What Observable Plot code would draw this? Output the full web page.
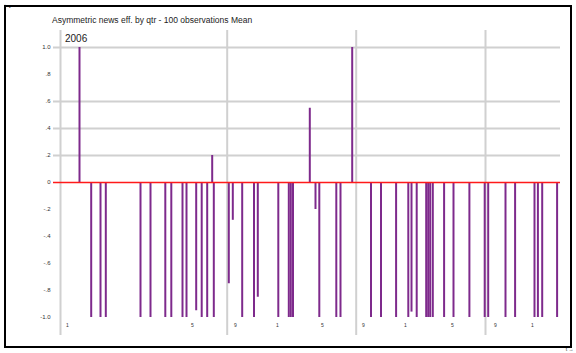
<!DOCTYPE html>
<html>
<head>
<meta charset="utf-8">
<script src="https://cdn.jsdelivr.net/npm/d3@7"></script>
<script src="https://cdn.jsdelivr.net/npm/@observablehq/plot@0.6"></script>
<style>
  html, body { margin: 0; padding: 0; background: #fff; overflow: hidden; }
  #wrap { position: relative; width: 576px; height: 353px; font-family: "Liberation Sans", Arial, sans-serif; }
  #frame { position: absolute; left: 4px; top: 5px; width: 564px; height: 339px; border: 2px solid #000; pointer-events: none; }
  #title { position: absolute; left: 52px; top: 15px; font-size: 8.5px; color: #222; white-space: nowrap; }
  #panel { position: absolute; left: 65px; top: 33px; font-size: 10px; color: #222; }
  #chart { position: absolute; left: 0; top: 0; }
</style>
</head>
<body>
<div id="wrap">
  <div id="chart"></div>
  <div id="title">Asymmetric news eff. by qtr - 100 observations Mean</div>
  <div id="panel">2006</div>
  <div id="frame"></div>
</div>
<script>
// event positions (time units) and signed news effect
const t = [1.9, 3.07, 4.0, 4.53, 8.0, 9.0, 10.48, 11.08, 12.2, 12.6,
           13.57, 14.12, 14.67, 15.17, 15.33, 16.83, 17.23, 18.17, 19.35, 19.73,
           21.78, 22.83, 23.03, 23.25, 24.93, 25.5, 25.88, 27.58, 28.0, 29.17,
           31.05, 32.05, 33.56, 34.78, 35.1, 35.62, 36.57, 36.77, 36.97, 37.23,
           38.36, 39.3, 40.89, 42.42, 42.77, 44.5, 45.46, 47.4, 47.74, 48.17, 49.66];
const v = [1.0, -1, -1, -1, -1, -1, -1, -1, -1, -1,
           -0.95, -1, -1, 0.2, -1, -0.75, -0.28, -1, -1, -0.85,
           -1, -1, -1, -1, 0.55, -0.2, -1, -1, -1, 1.0,
           -1, -1, -1, -1, -0.96, -1, -1, -1, -1, -1,
           -1, -1, -1, -1, -1, -1, -1, -1, -1, -1, -1];
const separators = [0, 16.67, 29.57, 42.5];
const yTicks = [1, 0.8, 0.6, 0.4, 0.2, 0, -0.2, -0.4, -0.6, -0.8, -1];
const yTickLabels = ["1.0", ".8", ".6", ".4", ".2", "0", "-.2", "-.4", "-.6", "-.8", "-1.0"];
const yGrid = [1, 0.6, 0.4, 0.2];
const xTicks = [0.7, 13.2, 17.5, 21.7, 26.2, 30.3, 34.5, 39.2, 43.5, 47.2];
const xTickLabels = ["1", "5", "9", "1", "5", "9", "1", "5", "9", "1"];

const data = t.map((d, i) => ({t: d, v: v[i]}));

const chart = Plot.plot({
  width: 576,
  height: 353,
  marginLeft: 53,
  marginRight: 16,
  marginTop: 30,
  marginBottom: 18,
  style: {background: "transparent", fontFamily: "Liberation Sans, Arial, sans-serif"},
  x: {domain: [0, 50], range: [60, 560]},
  y: {domain: [-1, 1], range: [317, 47]},
  marks: [
    Plot.ruleY(yGrid, {stroke: "#d0d0d0", strokeWidth: 2}),
    Plot.ruleX(separators, {stroke: "#d0d0d0", strokeWidth: 2}),
    Plot.ruleX(data, {x: "t", y1: 0, y2: "v", stroke: "#7e2a8c", strokeWidth: 2}),
    Plot.ruleY([0], {stroke: "#ff1a1a", strokeWidth: 1.5}),
    Plot.axisY({ticks: yTicks, tickFormat: (d) => yTickLabels[yTicks.indexOf(d)], tickSize: 0, tickPadding: 3, fontSize: 6, fill: "#333"}),
    Plot.axisX({ticks: xTicks, tickFormat: (d) => xTickLabels[xTicks.indexOf(d)], tickSize: 0, tickPadding: 0, dy: -12, fontSize: 5, fill: "#333"})
  ]
});
document.getElementById("chart").appendChild(chart);
</script>
</body>
</html>
